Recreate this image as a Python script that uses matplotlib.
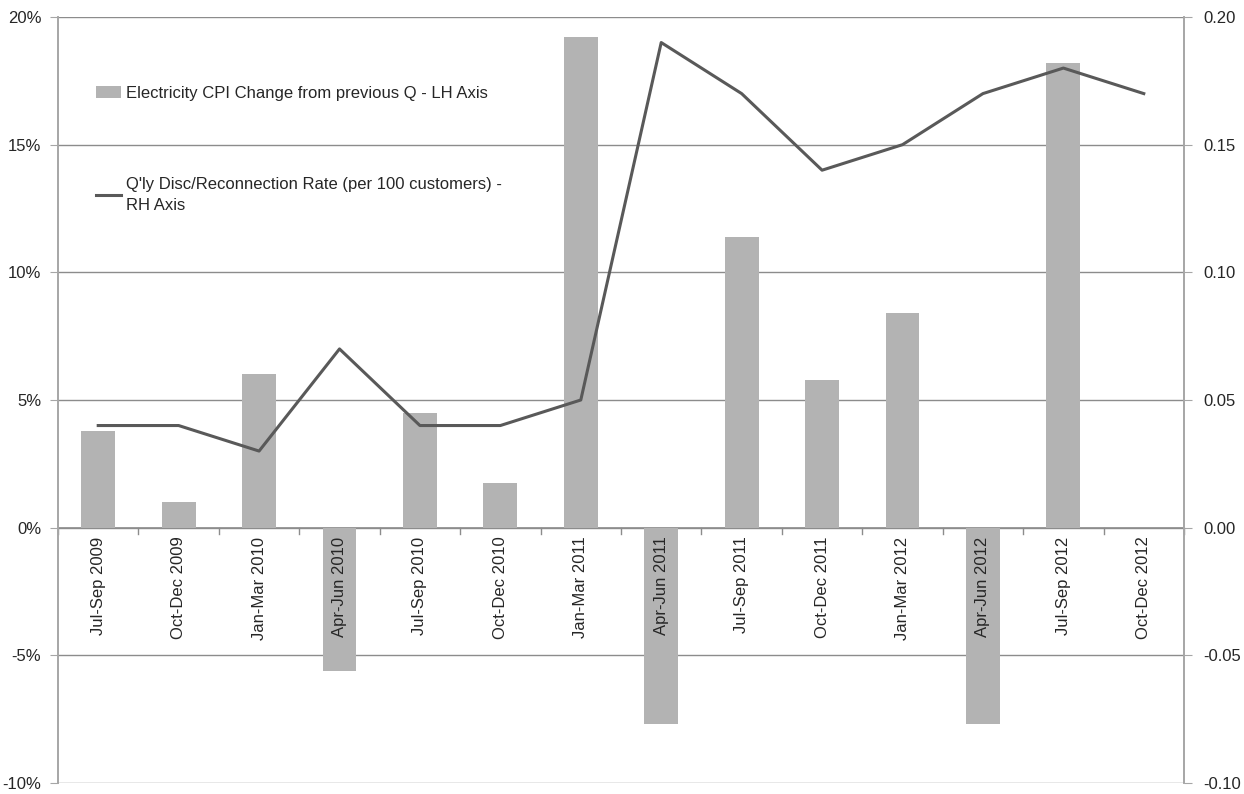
"""Electricity CPI change vs disconnection/reconnection rate, quarterly."""

import matplotlib.pyplot as plt
import numpy as np
from matplotlib import font_manager
from matplotlib.lines import Line2D
from matplotlib.patches import Patch

QUARTERS = [
    "Jul-Sep 2009", "Oct-Dec 2009", "Jan-Mar 2010", "Apr-Jun 2010",
    "Jul-Sep 2010", "Oct-Dec 2010", "Jan-Mar 2011", "Apr-Jun 2011",
    "Jul-Sep 2011", "Oct-Dec 2011", "Jan-Mar 2012", "Apr-Jun 2012",
    "Jul-Sep 2012", "Oct-Dec 2012",
]
CPI_CHANGE = [3.8, 1.0, 6.0, -5.6, 4.5, 1.75, 19.2, -7.7, 11.4, 5.8, 8.4, -7.7, 18.2, 0.0]
DISC_RATE = [0.04, 0.04, 0.03, 0.07, 0.04, 0.04, 0.05, 0.19, 0.17, 0.14, 0.15, 0.17, 0.18, 0.17]
LEFT_TICKS = [-10, -5, 0, 5, 10, 15, 20]
RIGHT_TICKS = [-0.10, -0.05, 0.0, 0.05, 0.10, 0.15, 0.20]

BAR = "#b3b3b3"
LINE = "#595959"
GRID = "#8c8c8c"
SPINE = "#a6a6a6"
TEXT = "#262626"

names = {f.name for f in font_manager.fontManager.ttflist}
FAMILY = "Liberation Sans Narrow" if "Liberation Sans Narrow" in names else "Liberation Sans"
plt.rcParams["font.family"] = [FAMILY, "DejaVu Sans"]
FS = 12

fig = plt.figure(figsize=(12.44, 7.94), dpi=100, facecolor="white")
ax = fig.add_axes([58 / 1244, 11 / 794, 1126 / 1244, 766 / 794])
ax2 = ax.twinx()

x = np.arange(len(QUARTERS))
ax.bar(x, CPI_CHANGE, width=0.42, color=BAR, zorder=2)
ax2.plot(x, DISC_RATE, color=LINE, linewidth=2.2, zorder=3)

ax.set_xlim(-0.5, len(QUARTERS) - 0.5)
ax.set_ylim(-10, 20)
ax2.set_ylim(-0.10, 0.20)

ax.set_yticks(LEFT_TICKS)
ax.set_yticklabels([f"{t}%" for t in LEFT_TICKS], fontsize=FS, color=TEXT)
ax2.set_yticks(RIGHT_TICKS)
ax2.set_yticklabels([f"{t:.2f}" for t in RIGHT_TICKS], fontsize=FS, color=TEXT)
ax.tick_params(axis="y", length=6, color=SPINE, pad=6)
ax2.tick_params(axis="y", length=6, color=SPINE, pad=8)
ax.set_xticks([])

for t in LEFT_TICKS:
    ax.axhline(t, color=GRID, linewidth=1.0, zorder=1)
ax.axhline(0, color=GRID, linewidth=1.2, zorder=1)
# category ticks along the zero line
for b in np.arange(-0.5, len(QUARTERS), 1.0):
    ax.plot([b, b], [0, -0.25], color=GRID, linewidth=1.0, zorder=1, clip_on=False)

for xi, label in zip(x, QUARTERS):
    ax.text(xi, -0.35, label, rotation=90, ha="center", va="top",
            fontsize=FS, color=TEXT, zorder=4)

for a in (ax, ax2):
    a.spines["top"].set_visible(False)
    a.spines["bottom"].set_visible(False)
    a.spines["left"].set_color(SPINE)
    a.spines["right"].set_color(SPINE)
    a.spines["left"].set_linewidth(1.2)
    a.spines["right"].set_linewidth(1.2)
    a.patch.set_visible(False)

handles = [
    Patch(facecolor=BAR, edgecolor="none"),
    Line2D([], [], color=LINE, linewidth=2.2),
]
labels = [
    "Electricity CPI Change from previous Q - LH Axis",
    "Q'ly Disc/Reconnection Rate (per 100 customers) -\nRH Axis",
]
leg = ax.legend(handles, labels, loc="upper left", bbox_to_anchor=(0.02, 0.93),
                frameon=False, fontsize=FS, labelspacing=4.6, handlelength=1.5,
                handletextpad=0.3, labelcolor=TEXT)
leg.get_texts()[1].set_linespacing(1.5)

fig.savefig("out.png", dpi=100, facecolor="white")
